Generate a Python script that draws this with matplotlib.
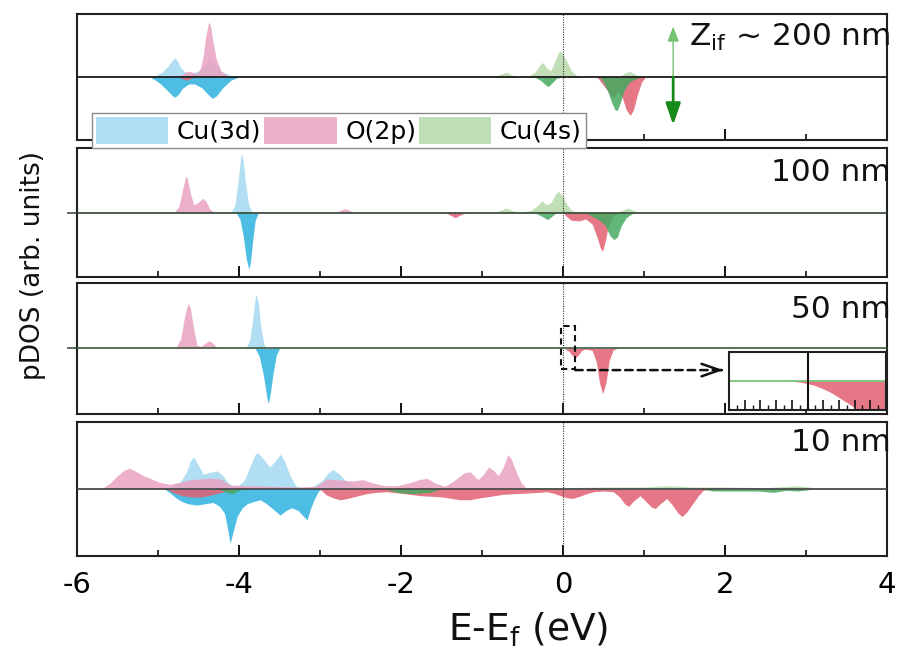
import numpy as np
import matplotlib
matplotlib.use("Agg")
import matplotlib.pyplot as plt
from matplotlib.patches import Patch, Rectangle
from matplotlib.ticker import MultipleLocator

plt.rcParams["axes.unicode_minus"] = False

# Projected DOS, (E - Ef in eV, pDOS in arb. units); spin up > 0, spin down < 0.
# ---- Z_if ~ 200 nm
cu3d_up_200 = [(-5.10, 0), (-5.02, 0.03), (-4.95, 0.08), (-4.88, 0.17), (-4.82, 0.27), (-4.79, 0.30),
               (-4.76, 0.26), (-4.72, 0.15), (-4.66, 0.07), (-4.58, 0.06), (-4.50, 0.10), (-4.42, 0.20),
               (-4.36, 0.29), (-4.30, 0.22), (-4.23, 0.10), (-4.12, 0.03), (-4.00, 0)]
cu3d_dn_200 = [(-5.10, 0), (-5.02, -0.06), (-4.96, -0.12), (-4.88, -0.22), (-4.82, -0.30), (-4.79, -0.32),
               (-4.75, -0.28), (-4.70, -0.18), (-4.62, -0.11), (-4.55, -0.11), (-4.46, -0.17), (-4.38, -0.28),
               (-4.33, -0.34), (-4.28, -0.30), (-4.20, -0.17), (-4.10, -0.05), (-4.00, 0)]
o2p_up_200 = [(-4.74, 0), (-4.66, 0.08), (-4.60, 0.09), (-4.53, 0.05), (-4.48, 0.12), (-4.44, 0.35),
              (-4.41, 0.65), (-4.38, 0.84), (-4.37, 0.87), (-4.35, 0.80), (-4.32, 0.55), (-4.28, 0.28),
              (-4.22, 0.09), (-4.12, 0)]
o2p_dn_200 = [(-4.75, 0), (-4.65, -0.05), (-4.55, 0), (0.42, 0), (0.48, -0.10), (0.54, -0.20), (0.60, -0.31),
              (0.63, -0.32), (0.68, -0.22), (0.73, -0.32), (0.78, -0.52), (0.83, -0.61), (0.87, -0.52),
              (0.92, -0.27), (0.97, -0.08), (1.02, 0)]
cu4s_up_200 = [(-0.85, 0), (-0.76, 0.05), (-0.70, 0.08), (-0.63, 0.03), (-0.55, 0), (-0.42, 0.02),
               (-0.34, 0.08), (-0.28, 0.20), (-0.25, 0.23), (-0.20, 0.14), (-0.15, 0.10), (-0.10, 0.25),
               (-0.06, 0.38), (-0.04, 0.42), (0.00, 0.36), (0.05, 0.24), (0.10, 0.10), (0.16, 0.03),
               (0.25, 0), (0.68, 0), (0.76, 0.06), (0.82, 0.09), (0.88, 0.05), (0.95, 0)]
cu4s_dn_200 = [(-0.35, 0), (-0.27, -0.06), (-0.21, -0.13), (-0.18, -0.15), (-0.14, -0.10), (-0.08, -0.02),
               (0.00, 0), (0.45, 0), (0.50, -0.08), (0.55, -0.22), (0.60, -0.40), (0.64, -0.52),
               (0.67, -0.53), (0.71, -0.40), (0.75, -0.22), (0.82, -0.08), (0.88, -0.04), (0.95, 0)]

# ---- 100 nm
cu3d_up_100 = [(-4.10, 0), (-4.05, 0.12), (-4.01, 0.50), (-3.98, 0.85), (-3.97, 0.91), (-3.95, 0.82),
               (-3.92, 0.45), (-3.88, 0.12), (-3.84, 0)]
cu3d_dn_100 = [(-4.04, 0), (-3.99, -0.10), (-3.95, -0.35), (-3.91, -0.72), (-3.88, -0.88), (-3.86, -0.78),
               (-3.83, -0.42), (-3.80, -0.12), (-3.76, 0)]
o2p_up_100 = [(-4.80, 0), (-4.74, 0.10), (-4.69, 0.40), (-4.66, 0.56), (-4.64, 0.54), (-4.60, 0.30),
              (-4.56, 0.12), (-4.50, 0.16), (-4.45, 0.22), (-4.41, 0.18), (-4.36, 0.05), (-4.30, 0),
              (-2.80, 0), (-2.74, 0.04), (-2.69, 0.06), (-2.63, 0.03), (-2.56, 0)]
o2p_dn_100 = [(-1.45, 0), (-1.38, -0.05), (-1.33, -0.08), (-1.27, -0.04), (-1.20, 0), (0.00, 0),
              (0.04, -0.06), (0.10, -0.12), (0.20, -0.13), (0.28, -0.10), (0.36, -0.18), (0.42, -0.38),
              (0.46, -0.55), (0.49, -0.60), (0.52, -0.45), (0.56, -0.20), (0.62, -0.04), (0.70, 0)]
cu4s_up_100 = [(-0.85, 0), (-0.76, 0.04), (-0.70, 0.07), (-0.63, 0.03), (-0.55, 0), (-0.40, 0.03),
               (-0.32, 0.10), (-0.26, 0.18), (-0.21, 0.12), (-0.15, 0.15), (-0.10, 0.27), (-0.06, 0.33),
               (-0.02, 0.28), (0.04, 0.14), (0.10, 0.04), (0.18, 0), (0.65, 0), (0.72, 0.03),
               (0.80, 0.07), (0.86, 0.04), (0.93, 0)]
cu4s_dn_100 = [(-0.35, 0), (-0.26, -0.06), (-0.19, -0.11), (-0.14, -0.06), (-0.08, 0), (0.28, 0),
               (0.36, -0.06), (0.45, -0.12), (0.52, -0.20), (0.58, -0.36), (0.63, -0.42), (0.67, -0.38),
               (0.72, -0.20), (0.78, -0.08), (0.85, -0.02), (0.90, 0)]

# ---- 50 nm
cu3d_up_50 = [(-3.92, 0), (-3.87, 0.12), (-3.83, 0.45), (-3.80, 0.78), (-3.79, 0.82), (-3.76, 0.68),
              (-3.73, 0.32), (-3.69, 0.06), (-3.66, 0)]
cu3d_dn_50 = [(-3.80, 0), (-3.75, -0.12), (-3.70, -0.40), (-3.66, -0.72), (-3.64, -0.84), (-3.62, -0.74),
              (-3.58, -0.38), (-3.54, -0.10), (-3.50, 0)]
o2p_up_50 = [(-4.78, 0), (-4.72, 0.15), (-4.67, 0.50), (-4.63, 0.69), (-4.60, 0.62), (-4.56, 0.30),
             (-4.52, 0.05), (-4.47, 0.03), (-4.42, 0.08), (-4.37, 0.12), (-4.32, 0.08), (-4.26, 0)]
o2p_dn_50 = [(0.02, 0), (0.07, -0.04), (0.11, -0.10), (0.15, -0.14), (0.19, -0.10), (0.23, -0.03),
             (0.28, -0.01), (0.36, -0.03), (0.41, -0.20), (0.45, -0.52), (0.49, -0.69), (0.53, -0.52),
             (0.57, -0.18), (0.62, -0.02), (0.67, 0)]
cu4s_up_50 = []
cu4s_dn_50 = []

# O(2p) spin down close to Ef (50 nm), magnified
inset_o2p_dn = [(-0.030, 0), (-0.020, -0.01), (-0.010, -0.04), (0.000, -0.09), (0.010, -0.16),
                (0.020, -0.27), (0.030, -0.40), (0.040, -0.57), (0.050, -0.74), (0.060, -0.92),
                (0.070, -1.10), (0.100, -1.60)]

# ---- 10 nm
cu3d_up_10 = [(-4.92, 0), (-4.82, 0.05), (-4.73, 0.10), (-4.65, 0.25), (-4.60, 0.42), (-4.56, 0.48),
              (-4.50, 0.35), (-4.44, 0.22), (-4.36, 0.25), (-4.27, 0.27), (-4.20, 0.20), (-4.14, 0.10),
              (-4.07, 0.03), (-4.00, 0.06), (-3.93, 0.14), (-3.86, 0.35), (-3.80, 0.52), (-3.77, 0.54),
              (-3.70, 0.45), (-3.62, 0.33), (-3.55, 0.42), (-3.49, 0.52), (-3.44, 0.42), (-3.37, 0.20),
              (-3.30, 0.05), (-3.20, 0.01), (-3.10, 0.03), (-2.98, 0.12), (-2.90, 0.24), (-2.84, 0.29),
              (-2.76, 0.22), (-2.68, 0.12), (-2.58, 0.05), (-2.45, 0)]
cu3d_dn_10 = [(-4.92, 0), (-4.83, -0.08), (-4.77, -0.14), (-4.70, -0.19), (-4.63, -0.22), (-4.52, -0.24),
              (-4.42, -0.22), (-4.32, -0.20), (-4.24, -0.26), (-4.18, -0.36), (-4.14, -0.60), (-4.11, -0.81),
              (-4.07, -0.62), (-4.02, -0.40), (-3.96, -0.28), (-3.90, -0.22), (-3.80, -0.18), (-3.74, -0.16),
              (-3.66, -0.22), (-3.58, -0.30), (-3.49, -0.39), (-3.42, -0.32), (-3.35, -0.28), (-3.27, -0.32),
              (-3.21, -0.40), (-3.16, -0.46), (-3.12, -0.30), (-3.07, -0.15), (-3.02, -0.03), (-2.98, 0)]
o2p_up_10 = [(-5.70, 0), (-5.60, 0.08), (-5.50, 0.20), (-5.42, 0.28), (-5.35, 0.31), (-5.27, 0.26),
             (-5.18, 0.20), (-5.08, 0.15), (-4.98, 0.10), (-4.86, 0.07), (-4.73, 0.10), (-4.60, 0.14),
             (-4.48, 0.15), (-4.35, 0.16), (-4.23, 0.15), (-4.11, 0.06), (-3.90, 0.05), (-3.60, 0.04),
             (-3.30, 0.03), (-3.05, 0.04), (-2.92, 0.15), (-2.80, 0.14), (-2.71, 0.13), (-2.58, 0.12),
             (-2.47, 0.14), (-2.35, 0.09), (-2.20, 0.05), (-2.05, 0.05), (-1.90, 0.09), (-1.78, 0.14),
             (-1.68, 0.16), (-1.58, 0.09), (-1.46, 0.04), (-1.35, 0.12), (-1.22, 0.24), (-1.15, 0.26),
             (-1.05, 0.14), (-0.98, 0.22), (-0.92, 0.33), (-0.86, 0.28), (-0.80, 0.20), (-0.74, 0.32),
             (-0.68, 0.51), (-0.64, 0.45), (-0.58, 0.26), (-0.52, 0.10), (-0.46, 0.02), (-0.40, 0)]
o2p_dn_10 = [(-4.90, 0), (-4.80, -0.06), (-4.70, -0.10), (-4.58, -0.12), (-4.48, -0.12), (-4.38, -0.10),
             (-4.28, -0.07), (-4.15, -0.03), (-4.00, 0), (-3.00, 0), (-2.92, -0.09), (-2.82, -0.14),
             (-2.75, -0.16), (-2.66, -0.14), (-2.56, -0.11), (-2.43, -0.07), (-2.30, -0.05), (-2.18, -0.04),
             (-2.02, -0.06), (-1.89, -0.08), (-1.75, -0.10), (-1.60, -0.11), (-1.48, -0.12), (-1.38, -0.14),
             (-1.27, -0.16), (-1.15, -0.16), (-1.02, -0.13), (-0.90, -0.11), (-0.75, -0.08), (-0.60, -0.07),
             (-0.45, -0.06), (-0.30, -0.05), (-0.20, -0.04), (-0.10, -0.07), (-0.03, -0.10), (0.05, -0.13),
             (0.12, -0.14), (0.20, -0.11), (0.29, -0.07), (0.38, -0.04), (0.50, -0.03), (0.62, -0.04),
             (0.70, -0.12), (0.76, -0.22), (0.81, -0.26), (0.87, -0.18), (0.95, -0.10), (1.02, -0.18),
             (1.09, -0.27), (1.14, -0.29), (1.20, -0.22), (1.28, -0.14), (1.35, -0.24), (1.42, -0.36),
             (1.47, -0.41), (1.53, -0.34), (1.60, -0.22), (1.67, -0.10), (1.73, -0.02), (1.80, 0)]
cu4s_up_10 = [(-0.60, 0), (-0.40, 0.02), (0.00, 0.02), (0.50, 0.03), (1.00, 0.03), (1.30, 0.05),
              (1.60, 0.03), (2.00, 0.03), (2.50, 0.02), (2.90, 0.05), (3.10, 0.02), (3.30, 0)]
cu4s_dn_10 = [(-4.25, 0), (-4.15, -0.05), (-4.08, -0.07), (-4.00, -0.02), (-3.95, 0), (-2.20, 0),
              (-2.05, -0.05), (-1.85, -0.07), (-1.65, -0.05), (-1.50, 0), (1.70, 0), (1.85, -0.03),
              (2.10, -0.03), (2.40, -0.03), (2.60, -0.05), (2.75, -0.02), (2.90, -0.03), (3.10, 0)]

PANEL_LABELS = [r"Z$_\mathregular{if}$ ~ 200 nm", "100 nm", "50 nm", "10 nm"]
CU3D_UP = [cu3d_up_200, cu3d_up_100, cu3d_up_50, cu3d_up_10]
CU3D_DN = [cu3d_dn_200, cu3d_dn_100, cu3d_dn_50, cu3d_dn_10]
O2P_UP = [o2p_up_200, o2p_up_100, o2p_up_50, o2p_up_10]
O2P_DN = [o2p_dn_200, o2p_dn_100, o2p_dn_50, o2p_dn_10]
CU4S_UP = [cu4s_up_200, cu4s_up_100, cu4s_up_50, cu4s_up_10]
CU4S_DN = [cu4s_dn_200, cu4s_dn_100, cu4s_dn_50, cu4s_dn_10]
LEGEND_LABELS = ["Cu(3d)", "O(2p)", "Cu(4s)"]

# colours: (spin up, spin down)
BLUE = ("#a4d9f0", "#2fb2df")
PINK = ("#e9a2c1", "#e25f72")
GREEN = ("#b6daab", "#45aa60")
INK = "#111111"

# panel rectangles in figure fraction (top to bottom)
AX_RECTS = [(0.0853, 0.7869, 0.8970, 0.1918),
            (0.0853, 0.5784, 0.8970, 0.1963),
            (0.0853, 0.3699, 0.8970, 0.1994),
            (0.0853, 0.1537, 0.8970, 0.2040)]
LABEL_Y = [0.935, 0.925, 0.910, 0.955]
BASE_COLORS = ["#1a1a1a", "#3f513f", "#4d644d", "#4a4a4a"]


def fill(ax, pts, color, alpha=0.85, z=2):
    if not pts:
        return
    e, v = np.array(pts, dtype=float).T
    ax.fill_between(e, 0, v, color=color, alpha=alpha, lw=0, zorder=z)


def style_axis(ax, bottom_labels):
    ax.set_xlim(-6, 4)
    ax.set_ylim(-1, 1)
    ax.xaxis.set_major_locator(MultipleLocator(2))
    ax.xaxis.set_minor_locator(MultipleLocator(1))
    ax.tick_params(axis="x", which="major", direction="in", length=8, width=1.4,
                   labelsize=21, pad=11, labelbottom=bottom_labels, color=INK)
    ax.tick_params(axis="x", which="minor", direction="in", length=4.5, width=1.2, color=INK)
    ax.set_yticks([])
    for sp in ax.spines.values():
        sp.set_linewidth(1.5)
        sp.set_color("#202020")


def main():
    fig = plt.figure(figsize=(9.03, 6.57), dpi=100)
    fig.patch.set_facecolor("white")

    axes = []
    for i, rect in enumerate(AX_RECTS):
        ax = fig.add_axes(rect)
        style_axis(ax, bottom_labels=(i == len(AX_RECTS) - 1))
        if i in (1, 2):
            ax.set_yticks([0])
            ax.tick_params(axis="y", direction="out", length=7, width=1.2,
                           labelleft=False, color="#3f513f")

        fill(ax, CU3D_UP[i], BLUE[0])
        fill(ax, CU3D_DN[i], BLUE[1])
        fill(ax, O2P_UP[i], PINK[0])
        fill(ax, O2P_DN[i], PINK[1])
        fill(ax, CU4S_UP[i], GREEN[0])
        fill(ax, CU4S_DN[i], GREEN[1])

        ax.axhline(0, color=BASE_COLORS[i], lw=1.3, zorder=4)
        ax.axvline(0, color="#333333", lw=0.8, ls=(0, (1, 1.2)), zorder=3)
        ax.text(1.004, LABEL_Y[i], PANEL_LABELS[i], transform=ax.transAxes,
                ha="right", va="top", fontsize=22.5, color=INK, zorder=6)
        axes.append(ax)

    # spin up / spin down arrow in the top panel
    ax = axes[0]
    ax.annotate("", xy=(1.36, 0.80), xytext=(1.36, 0),
                arrowprops=dict(arrowstyle="-|>,head_length=0.9,head_width=0.35",
                                color="#74c474", lw=1.0, shrinkA=0, shrinkB=0), zorder=5)
    ax.annotate("", xy=(1.36, -0.76), xytext=(1.36, 0),
                arrowprops=dict(arrowstyle="-|>,head_length=1.3,head_width=0.45",
                                color="#178a17", lw=2.0, shrinkA=0, shrinkB=0), zorder=5)

    # zoom box near Ef in the 50 nm panel and dashed pointer to the inset
    ax = axes[2]
    ax.add_patch(Rectangle((-0.025, -0.32), 0.175, 0.67, fill=False, ls=(0, (3, 2)),
                           lw=1.5, ec=INK, zorder=6))
    ax.annotate("", xy=(1.88, -0.33), xytext=(0.15, -0.33),
                arrowprops=dict(arrowstyle="-", ls=(0, (3, 2)), lw=1.8, color=INK,
                                shrinkA=0, shrinkB=0), zorder=6)
    ax.annotate("", xy=(1.98, -0.33), xytext=(1.95, -0.33),
                arrowprops=dict(arrowstyle="->,head_length=1.3,head_width=0.45", lw=1.8,
                                color=INK, shrinkA=0, shrinkB=0), zorder=6)

    ins = fig.add_axes([0.8073, 0.3760, 0.1739, 0.0883], zorder=5)
    e, v = np.array(inset_o2p_dn, dtype=float).T
    ins.fill_between(e, 0, v, color=PINK[1], alpha=0.85, lw=0)
    ins.axhline(0, color="#6cbf6c", lw=1.2)
    ins.axvline(0, color=INK, lw=1.5)
    ins.set_xlim(-0.1, 0.1)
    ins.set_ylim(-1, 1)
    ins.set_yticks([])
    ins.xaxis.set_major_locator(MultipleLocator(0.02))
    ins.xaxis.set_minor_locator(MultipleLocator(0.01))
    ins.tick_params(axis="x", which="major", direction="in", length=7, width=1.2,
                    labelbottom=False, color=INK)
    ins.tick_params(axis="x", which="minor", direction="in", length=3.5, width=1.0, color=INK)
    for sp in ins.spines.values():
        sp.set_linewidth(1.5)
        sp.set_color("#202020")

    handles = [Patch(facecolor=c[0], edgecolor="none", alpha=0.85) for c in (BLUE, PINK, GREEN)]
    fig.legend(handles, LEGEND_LABELS, loc="upper left", bbox_to_anchor=(0.102, 0.828),
               ncol=3, frameon=True, fancybox=False, edgecolor="#8a8a8a", framealpha=1,
               fontsize=18, handlelength=2.9, handleheight=1.3, handletextpad=0.35,
               columnspacing=0.1, borderpad=0.15, borderaxespad=0)

    axes[-1].set_xlabel(r"E-E$_\mathregular{f}$ (eV)", fontsize=27, color=INK)
    axes[-1].xaxis.set_label_coords(0.557, -0.41)
    fig.text(0.036, 1 - 265 / 657, "pDOS (arb. units)", rotation=90,
             ha="center", va="center", fontsize=19, color=INK)

    fig.savefig("out.png", dpi=100, facecolor="white")


if __name__ == "__main__":
    main()
